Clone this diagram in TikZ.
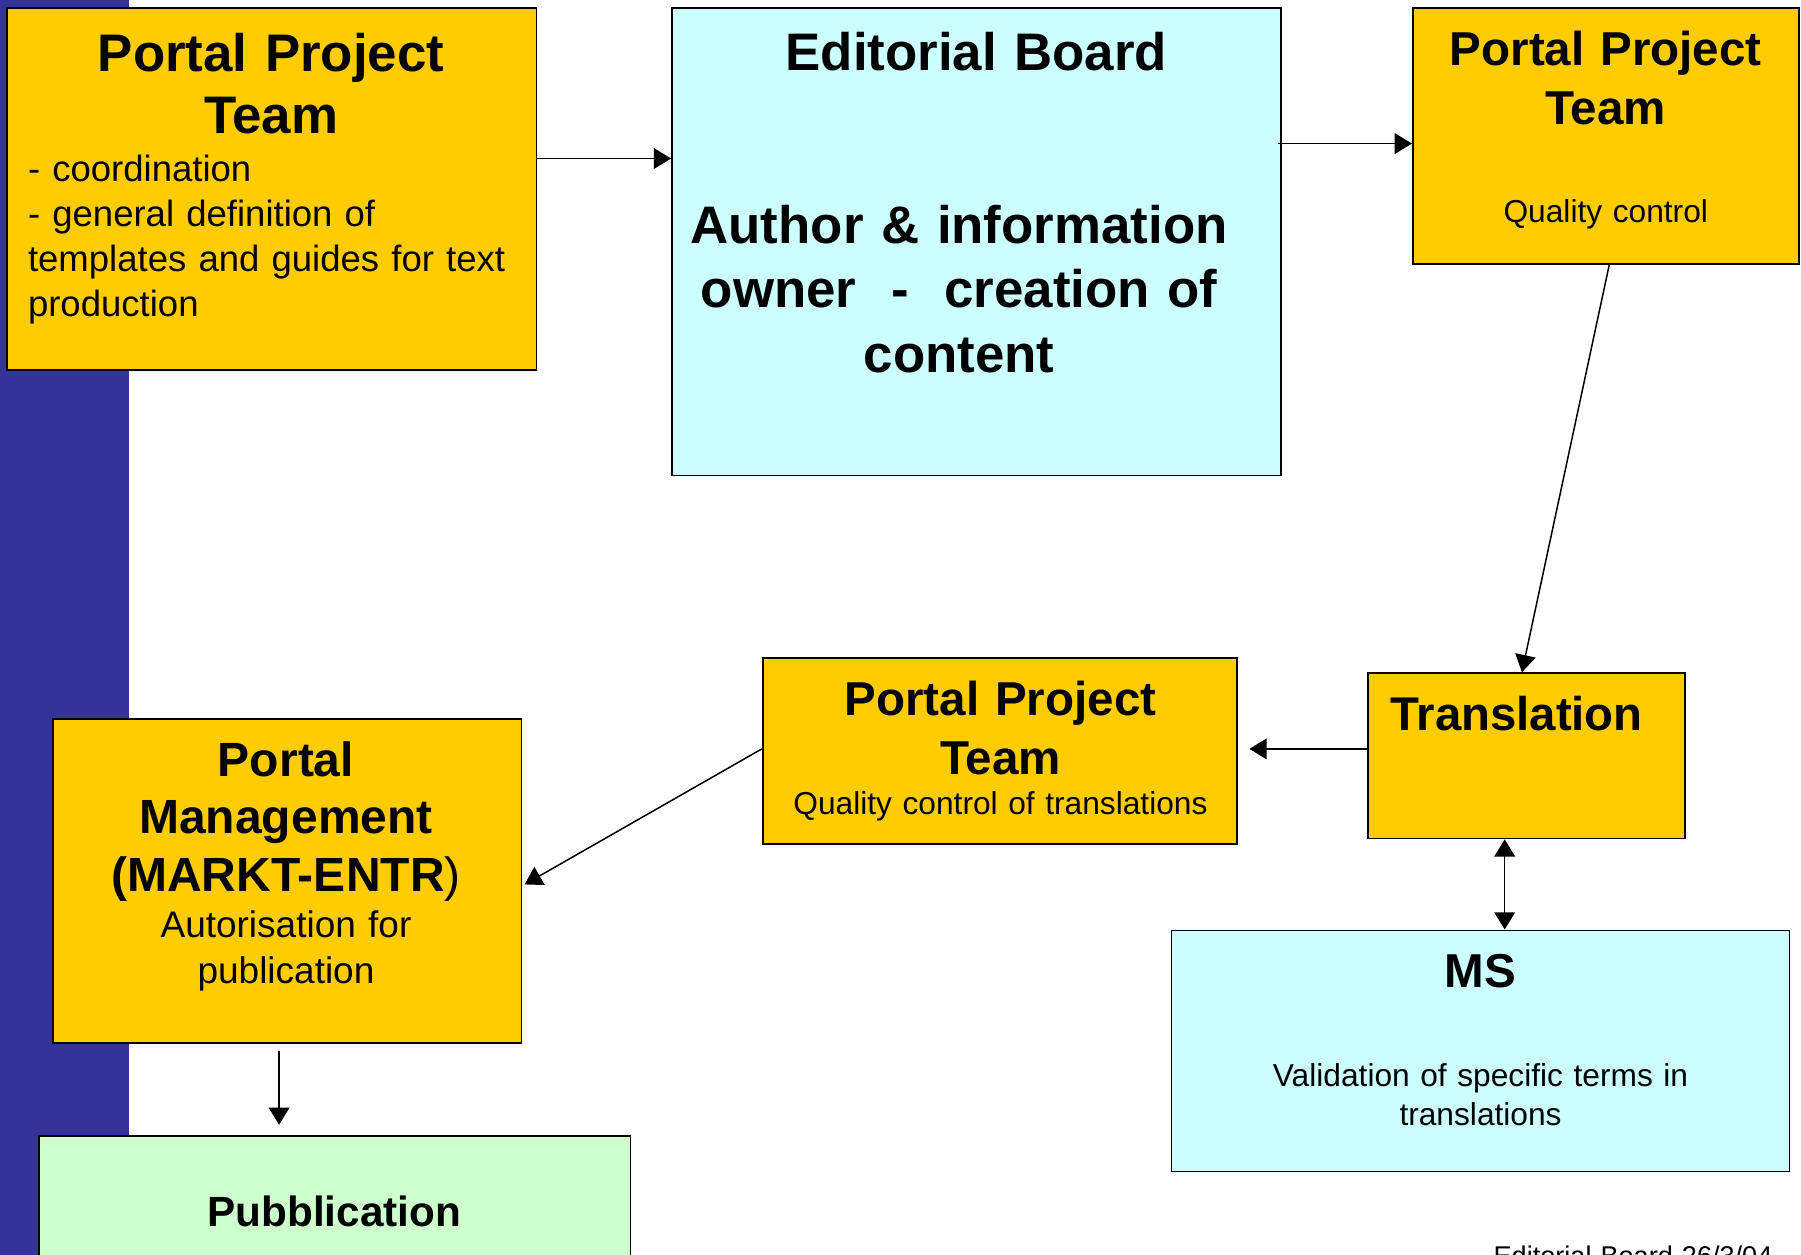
\documentclass[tikz,border=0pt]{standalone}
\usepackage{fontspec}
\setmainfont{Liberation Sans}
\usetikzlibrary{calc}
\usetikzlibrary{arrows.meta}

\definecolor{gold}{HTML}{FFCC00}
\definecolor{paleblue}{HTML}{CCFFFF}
\definecolor{palegreen}{HTML}{CCFFCC}
\definecolor{barblue}{HTML}{333399}

\newcommand{\fsz}[2]{\fontsize{#1}{#2}\selectfont}

\tikzset{
  box/.style = {draw, line width = .75pt, inner sep = 0pt},
  ctxt/.style = {inner sep = 0pt, text width = #1, align = center, anchor = base},
  ltxt/.style = {inner sep = 0pt, text width = #1, align = left, anchor = base west},
  tip/.tip = {Triangle[length = 7.5pt, width = 9pt]},
  arr/.style = {line width = .65pt, -tip},
  dblarr/.style = {line width = .65pt, tip-tip}
}

\begin{document}
\begin{tikzpicture}[x = .5pt, y = -.5pt]
  \useasboundingbox (0, 0) rectangle (1568, 1092);

  \fill[barblue] (0, -10) rectangle (112, 1110);

  % boxes
  \node[box, fill = gold, minimum width = 230.5pt, minimum height = 157.5pt] (A) at (236.5, 164.5) {};
  \node[box, fill = paleblue, minimum width = 265pt, minimum height = 203.5pt] (B) at (850, 210.5) {};
  \node[box, fill = gold, minimum width = 168pt, minimum height = 111.5pt] (C) at (1398, 118.5) {};
  \node[box, fill = gold, minimum width = 138pt, minimum height = 72pt] (D) at (1329, 658) {};
  \node[box, fill = gold, minimum width = 206.5pt, minimum height = 81pt] (E) at (870.5, 654) {};
  \node[box, fill = gold, minimum width = 204pt, minimum height = 141pt] (F) at (250, 767) {};
  \node[box, fill = paleblue, minimum width = 269pt, minimum height = 105pt] (G) at (1289, 915) {};
  \node[box, fill = palegreen, minimum width = 257.5pt, minimum height = 80pt] (H) at (291.5, 1069) {};

  % texts
  \node[ctxt = 220pt, font = \fsz{23}{27}\bfseries] (A-title) at (236, 62) {Portal Project\\Team};
  \node[ltxt = 225pt, font = \fsz{15.9}{19.6}] (A-text) at (24, 158)
    {- coordination\\- general definition of\\templates and guides for text\\production};

  \node[ctxt = 260pt, font = \fsz{23}{27}\bfseries] (B-title) at (850, 61) {Editorial Board};
  \node[ctxt = 260pt, font = \fsz{23}{28}\bfseries] (B-text) at (835, 212)
    {Author \& information\\owner\ \ -\ \ creation of\\content};

  \node[ctxt = 165pt, font = \fsz{20.7}{25.5}\bfseries] (C-title) at (1398, 57) {Portal Project\\Team};
  \node[ctxt = 165pt, font = \fsz{13.8}{17}] (C-text) at (1398, 194) {Quality control};

  \node[ltxt = 130pt, font = \fsz{20.6}{25}\bfseries] (D-title) at (1210, 636) {Translation};

  \node[ctxt = 200pt, font = \fsz{20.7}{25.5}\bfseries] (E-title) at (871, 623) {Portal Project\\Team};
  \node[ctxt = 200pt, font = \fsz{13.8}{17}] (E-text) at (871, 709) {Quality control of translations};

  \node[ctxt = 200pt, font = \fsz{20.9}{25}\bfseries] (F-title) at (249, 676)
    {Portal\\Management\\(MARKT-ENTR\textmd{)}};
  \node[ctxt = 200pt, font = \fsz{16.1}{20}] (F-text) at (249, 816) {Autorisation for\\publication};

  \node[ctxt = 260pt, font = \fsz{20.7}{25}\bfseries] (G-title) at (1289, 860) {MS};
  \node[ctxt = 260pt, font = \fsz{13.8}{17}] (G-text) at (1289, 946)
    {Validation of specific terms in\\translations};

  \node[ctxt = 250pt, font = \fsz{18.4}{22}\bfseries] (H-title) at (291, 1068) {Pubblication};

  \node[ltxt = 200pt, font = \fsz{11.8}{14}] (footer) at (1300, 1102) {Editorial Board 26/3/04};

  % arrows
  \draw[arr] ($(A.east) + (0, -26.5)$) -- ($(A.east -| B.west) + (0, -26.5)$);
  \draw[arr] ($(C.west -| B.east) + (-3, 6.5)$) -- ($(C.west) + (0, 6.5)$);
  \draw[arr] ($(C.south) + (3, 0)$) -- ($(D.north) + (-4, 0)$);
  \draw[arr] ($(D.west) + (0, -6)$) -- ($(D.west -| E.east) + (10, -6)$);
  \draw[arr] ($(E.west) + (0, -2)$) -- ($(F.east) + (2, 3)$);
  \draw[dblarr] ($(D.south) + (-19, 0)$) -- ($(G.north -| D.south) + (-19, 0)$);
  \draw[arr] ($(F.south) + (-7, 6)$) -- ($(H.north -| F.south) + (-7, -9)$);
\end{tikzpicture}
\end{document}
